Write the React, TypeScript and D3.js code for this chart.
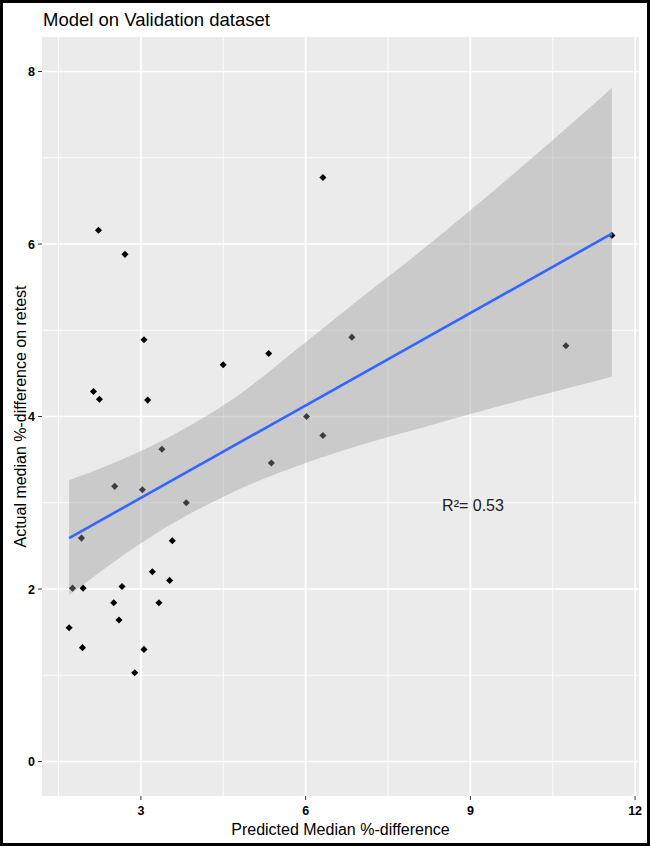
import React from "react";
import * as d3 from "d3";

const pointsX = [1.693, 1.755, 1.947, 1.918, 1.936, 2.505, 2.523, 2.601, 2.656, 2.887, 3.027, 3.056, 3.208, 3.328, 3.523, 3.572, 3.826, 2.227, 2.71, 3.056, 2.136, 2.245, 3.123, 4.498, 3.383, 6.315, 6.842, 5.327, 6.017, 6.315, 5.376, 10.74, 11.577];
const pointsY = [1.55, 2.01, 2.01, 2.59, 1.32, 1.84, 3.19, 1.64, 2.03, 1.03, 3.15, 1.30, 2.20, 1.84, 2.10, 2.56, 3.00, 6.16, 5.88, 4.89, 4.29, 4.20, 4.19, 4.60, 3.62, 6.77, 4.92, 4.73, 4.00, 3.78, 3.46, 4.82, 6.10];

const ribbonX = [1.693, 2.5, 3, 3.8, 4.6, 6, 7, 8, 9, 10, 11.577];
const ribbonLow = [1.93, 2.31, 2.53, 2.84, 3.10, 3.46, 3.67, 3.85, 4.03, 4.20, 4.46];
const ribbonHigh = [3.26, 3.46, 3.60, 3.86, 4.17, 4.86, 5.37, 5.87, 6.39, 6.93, 7.81];

const fitX = [1.693, 11.577];
const fitY = [2.59, 6.12];

const xTicks = [3, 6, 9, 12];
const xMinor = [1.5, 4.5, 7.5, 10.5];
const yTicks = [0, 2, 4, 6, 8];
const yMinor = [1, 3, 5, 7];

const title = "Model on Validation dataset";
const xTitle = "Predicted Median %-difference";
const yTitle = "Actual median %-difference on retest";
const annotation = "R²= 0.53";

export default function App() {
  const W = 650, H = 846;
  const left = 42, right = 639, top = 37, bottom = 796;
  const xmin = d3.min(pointsX)!, xmax = d3.max(pointsX)!;
  const xpad = (xmax - xmin) * 0.05;
  const x = d3.scaleLinear().domain([xmin - xpad, xmax + xpad]).range([left, right]);
  const y = d3.scaleLinear().domain([-0.4, 8.4]).range([bottom, top]);

  const ribbon = d3.area<number>()
    .x((_, i) => x(ribbonX[i]))
    .y0((_, i) => y(ribbonLow[i]))
    .y1((_, i) => y(ribbonHigh[i]))
    .curve(d3.curveMonotoneX)(ribbonX)!;
  const line = d3.line<number>()
    .x((_, i) => x(fitX[i]))
    .y((_, i) => y(fitY[i]))(fitX)!;
  const diamond = d3.symbol().type(d3.symbolSquare).size(25)()!;
  const font = "'Liberation Sans', Arial, sans-serif";

  return (
    <svg width={W} height={H} style={{ position: "absolute", left: 0, top: 0 }} fontFamily={font}>
      <rect x={0} y={0} width={W} height={H} fill="white" />
      <rect x={1.5} y={1.5} width={W - 3} height={H - 3} fill="none" stroke="black" strokeWidth={3} />
      <text x={43} y={26} fontSize={18.5} fill="black">{title}</text>
      <rect x={left} y={top} width={right - left} height={bottom - top} fill="#EBEBEB" />
      {xMinor.map((v) => (
        <line key={"xm" + v} x1={x(v)} x2={x(v)} y1={top} y2={bottom} stroke="white" strokeWidth={0.9} />
      ))}
      {yMinor.map((v) => (
        <line key={"ym" + v} x1={left} x2={right} y1={y(v)} y2={y(v)} stroke="white" strokeWidth={0.9} />
      ))}
      {xTicks.map((v) => (
        <line key={"xg" + v} x1={x(v)} x2={x(v)} y1={top} y2={bottom} stroke="white" strokeWidth={1.7} />
      ))}
      {yTicks.map((v) => (
        <line key={"yg" + v} x1={left} x2={right} y1={y(v)} y2={y(v)} stroke="white" strokeWidth={1.7} />
      ))}
      {pointsX.map((v, i) => (
        <path key={"p" + i} d={diamond} transform={`translate(${x(v)},${y(pointsY[i])}) rotate(45)`} fill="black" />
      ))}
      <path d={ribbon} fill="#999999" fillOpacity={0.4} />
      <path d={line} fill="none" stroke="#3366FF" strokeWidth={2.6} />
      <text x={473} y={511} fontSize={16} fill="#222" textAnchor="middle">{annotation}</text>
      {xTicks.map((v) => (
        <g key={"xt" + v}>
          <line x1={x(v)} x2={x(v)} y1={bottom} y2={bottom + 4} stroke="#333" strokeWidth={1} />
          <text x={x(v)} y={815} fontSize={12.5} fontWeight="bold" fill="black" textAnchor="middle">{v}</text>
        </g>
      ))}
      {yTicks.map((v) => (
        <g key={"yt" + v}>
          <line x1={left - 4} x2={left} y1={y(v)} y2={y(v)} stroke="#333" strokeWidth={1} />
          <text x={35} y={y(v) + 4.5} fontSize={12.5} fontWeight="bold" fill="black" textAnchor="end">{v}</text>
        </g>
      ))}
      <text x={(left + right) / 2} y={835} fontSize={16} fill="black" textAnchor="middle">{xTitle}</text>
      <text transform={`translate(25.5,${(top + bottom) / 2}) rotate(-90)`} fontSize={16} fill="black" textAnchor="middle">{yTitle}</text>
    </svg>
  );
}
